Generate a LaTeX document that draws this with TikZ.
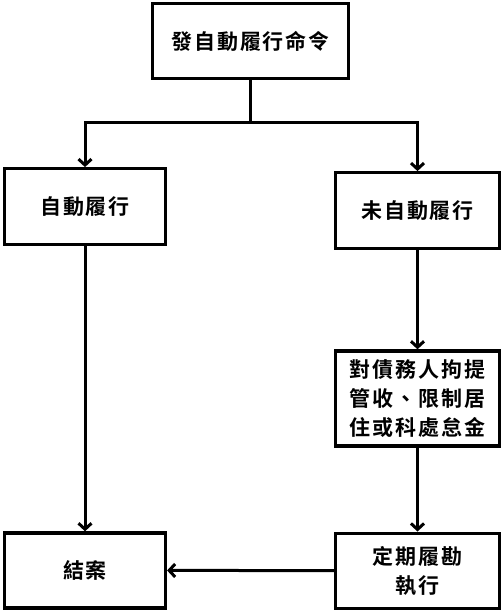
\documentclass[tikz,border=0pt]{standalone}
\usepackage{fontspec}
\newfontfamily\cjk[BoldFont={Noto Sans CJK TC Bold},LetterSpace=9]{Noto Sans CJK TC}
\usetikzlibrary{arrows.meta,positioning}
\tikzset{
  stepbox/.style={
    draw=black,
    fill=white,
    align=center,
    line width=3.2pt,
    minimum width=161pt,
    minimum height=76pt,
    inner sep=2pt,
    font=\cjk\bfseries\fontsize{21}{29}\selectfont
  },
  wide/.style={minimum width=164pt},
  arrow/.style={
    -{Straight Barb[length=6pt,width=13pt,line width=3pt]},
    line width=3pt,
    draw=black
  }
}

\begin{document}
\begin{tikzpicture}[node distance=88pt]
  \useasboundingbox (0,0) rectangle (504pt,-614pt);

  \node[stepbox, minimum width=196pt, minimum height=75pt] (order) at (250.5pt,-41pt) {發自動履行命令};

  \node[stepbox, below=87pt of order, xshift=-165.5pt] (auto) {自動履行};
  \node[stepbox, wide, below=91pt of order, xshift=167pt] (notauto) {未自動履行};
  \node[stepbox, wide, minimum height=95pt, below=99pt of notauto] (measure) {對債務人拘提\\管收、限制居\\住或科處怠金};
  \node[stepbox, wide, minimum height=75pt, below=84pt of measure] (regular) {定期履勘\\執行};
  \node[stepbox, minimum height=75pt, below=285pt of auto] (close) {結案};

  \coordinate[below=42pt of order] (split);

  \draw[line width=3pt] (order) -- (split);
  \draw[arrow] (split) -| (auto);
  \draw[arrow] (split) -| (notauto);
  \draw[arrow] (auto) -- (close);
  \draw[arrow] (notauto) -- (measure);
  \draw[arrow] (measure) -- (regular);
  \draw[arrow] (regular) -- (close);
\end{tikzpicture}
\end{document}
